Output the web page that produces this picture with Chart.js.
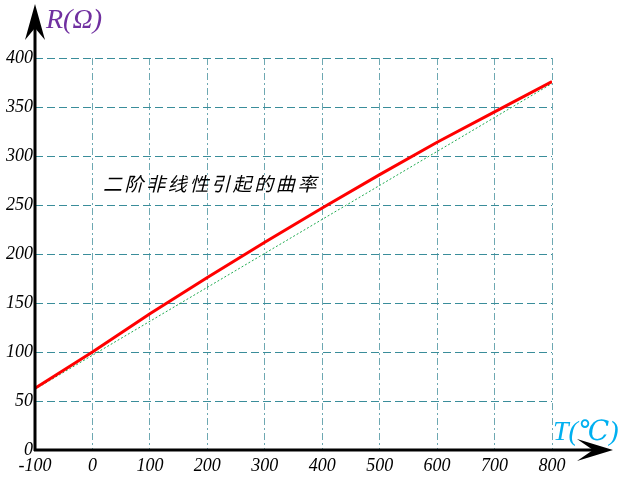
<!DOCTYPE html>
<html>
<head>
<meta charset="utf-8">
<script src="https://cdn.jsdelivr.net/npm/chart.js@4/dist/chart.umd.min.js"></script>
<style>
  html, body { margin: 0; padding: 0; background: #fff; }
  #wrap { width: 621px; height: 477px; }
</style>
</head>
<body>
<div id="wrap"><canvas id="chart" width="621" height="477"></canvas></div>
<script>
// temperature (°C) and resistance (Ω)
const temps = [-100, 0, 100, 200, 300, 400, 500, 600, 700, 800];
const resistance = [63, 100, 139, 176, 212, 247, 281, 314, 345, 376];
const lineTemps = [-100, 800];
const lineValues = [62, 374];

const xTicks = [-100, 0, 100, 200, 300, 400, 500, 600, 700, 800];
const yTicks = [0, 50, 100, 150, 200, 250, 300, 350, 400];

const note = "二阶非线性引起的曲率";

const serif = "'Liberation Serif', 'DejaVu Serif', serif";

// axes with arrows, axis names and the note
const decor = {
  id: "decor",
  afterDraw(chart) {
    const ctx = chart.ctx;
    const area = chart.chartArea;
    const x0 = area.left, y0 = area.bottom;
    ctx.save();
    ctx.strokeStyle = "#000";
    ctx.fillStyle = "#000";
    ctx.lineWidth = 3;
    ctx.beginPath();
    ctx.moveTo(x0, y0 + 1);
    ctx.lineTo(x0, 24);
    ctx.moveTo(x0 - 1, y0);
    ctx.lineTo(596, y0);
    ctx.stroke();

    // up arrow
    ctx.beginPath();
    ctx.moveTo(x0, 4);
    ctx.lineTo(x0 + 10, 40);
    ctx.lineTo(x0, 28);
    ctx.lineTo(x0 - 10, 40);
    ctx.closePath();
    ctx.fill();

    // right arrow
    ctx.beginPath();
    ctx.moveTo(613, y0);
    ctx.lineTo(577, y0 + 11);
    ctx.lineTo(593, y0);
    ctx.lineTo(577, y0 - 11);
    ctx.closePath();
    ctx.fill();

    ctx.font = "italic 28px " + serif;
    ctx.textBaseline = "alphabetic";
    ctx.textAlign = "left";
    ctx.fillStyle = "#7030a0";
    ctx.fillText("R(Ω)", 46, 28);
    ctx.fillStyle = "#00b0f0";
    ctx.fillText("T(℃)", 553, 440);

    ctx.fillStyle = "#000";
    ctx.font = "italic 19px 'Noto Sans CJK SC', sans-serif";
    for (let i = 0; i < note.length; i++) {
      ctx.fillText(note[i], 103 + i * 21.6, 191);
    }
    ctx.restore();
  }
};

new Chart(document.getElementById("chart"), {
  type: "line",
  data: {
    datasets: [
      {
        label: "R",
        data: temps.map((t, i) => ({ x: t, y: resistance[i] })),
        borderColor: "#ff0000",
        borderWidth: 3,
        pointRadius: 0,
        tension: 0,
        fill: false,
      },
      {
        label: "linear",
        data: lineTemps.map((t, i) => ({ x: t, y: lineValues[i] })),
        borderColor: "#1faa50",
        borderWidth: 1,
        borderDash: [2, 2],
        pointRadius: 0,
        fill: false,
      },
    ],
  },
  options: {
    responsive: false,
    animation: false,
    layout: { padding: { top: 58, right: 69, left: 0, bottom: 0 } },
    plugins: {
      legend: { display: false },
      tooltip: { enabled: false },
    },
    scales: {
      x: {
        type: "linear",
        min: -100,
        max: 800,
        afterBuildTicks: (s) => { s.ticks = xTicks.map((v) => ({ value: v })); },
        afterFit: (s) => { s.height = 27; },
        grid: { color: "#6ea8b2", lineWidth: 1, drawTicks: false },
        border: { display: false, dash: [7, 3, 2, 3] },
        ticks: {
          color: "#000",
          padding: 5,
          maxRotation: 0,
          autoSkip: false,
          font: { family: serif, size: 18, style: "italic" },
        },
      },
      y: {
        type: "linear",
        min: 0,
        max: 400,
        afterBuildTicks: (s) => { s.ticks = yTicks.map((v) => ({ value: v })); },
        afterFit: (s) => { s.width = 35; },
        grid: { color: "#3a8d9a", lineWidth: 1, drawTicks: false },
        border: { display: false, dash: [8, 4] },
        ticks: {
          color: "#000",
          padding: 2,
          autoSkip: false,
          font: { family: serif, size: 18, style: "italic" },
        },
      },
    },
  },
  plugins: [decor],
});
</script>
</body>
</html>
